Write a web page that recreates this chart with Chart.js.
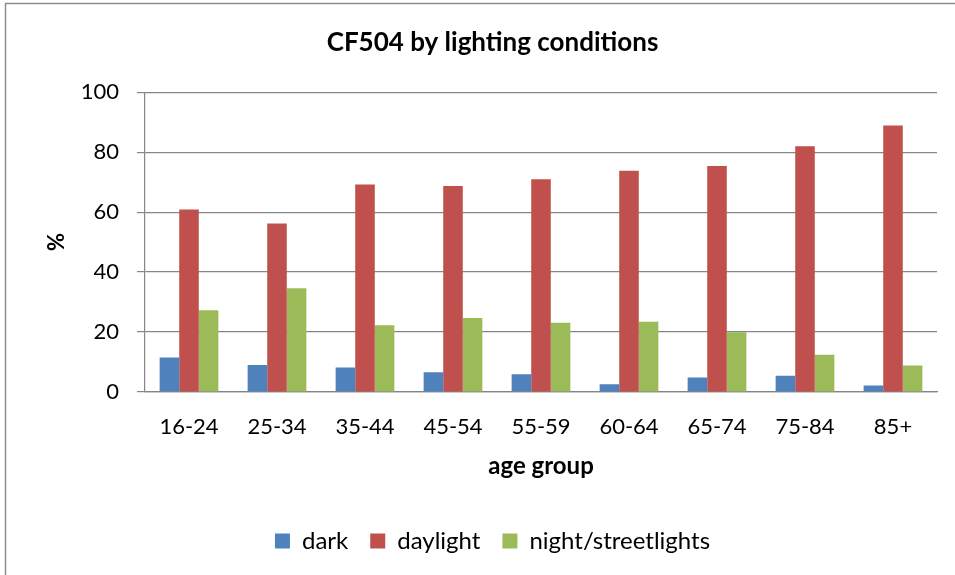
<!DOCTYPE html>
<html>
<head>
<meta charset="utf-8">
<script src="https://cdn.jsdelivr.net/npm/chart.js@4/dist/chart.umd.min.js"></script>
<style>
  html, body { margin: 0; padding: 0; background: #ffffff; }
  #wrap { width: 955px; height: 575px; position: relative; }
</style>
</head>
<body>
<div id="wrap"><canvas id="c" width="955" height="575"></canvas></div>
<script>
// Share of CF504 casualties by lighting conditions, per age group (%)
const ageGroups = ['16-24', '25-34', '35-44', '45-54', '55-59', '60-64', '65-74', '75-84', '85+'];
const dark = [11.5, 9.0, 8.2, 6.6, 5.9, 2.6, 4.8, 5.4, 2.2];
const daylight = [60.9, 56.2, 69.2, 68.7, 71.0, 73.8, 75.4, 82.0, 88.9];
const nightStreetlights = [27.3, 34.6, 22.3, 24.7, 23.1, 23.4, 19.9, 12.4, 8.8];
const yTicks = [0, 20, 40, 60, 80, 100];

const FONT = 'Lato, "Open Sans", sans-serif';
const GRID = '#868686';

// Thin frame around the whole chart
const framePlugin = {
  id: 'frame',
  beforeDraw(chart) {
    const ctx = chart.ctx;
    ctx.save();
    ctx.fillStyle = '#ffffff';
    ctx.fillRect(0, 0, chart.width, chart.height);
    ctx.strokeStyle = '#8c8c8c';
    ctx.lineWidth = 1.5;
    ctx.strokeRect(5.5, 3.5, chart.width + 20, chart.height + 20);
    ctx.restore();
  }
};

new Chart(document.getElementById('c'), {
  type: 'bar',
  data: {
    labels: ageGroups,
    datasets: [
      { label: 'dark', data: dark, backgroundColor: '#4F81BD' },
      { label: 'daylight', data: daylight, backgroundColor: '#C0504D' },
      { label: 'night/streetlights', data: nightStreetlights, backgroundColor: '#9BBB59' }
    ]
  },
  options: {
    responsive: false,
    animation: false,
    events: [],
    layout: { padding: { left: 48, right: 18, top: 0, bottom: 12 } },
    datasets: { bar: { categoryPercentage: 0.667, barPercentage: 1.0 } },
    plugins: {
      title: {
        display: true,
        text: 'CF504 by lighting conditions',
        color: '#000000',
        font: { family: FONT, size: 26, weight: 'bold', lineHeight: 1.2 },
        padding: { top: 27, bottom: 34 }
      },
      legend: {
        position: 'bottom',
        labels: {
          color: '#000000',
          font: { family: FONT, size: 24 },
          boxWidth: 15,
          boxHeight: 15,
          padding: 22
        }
      },
      tooltip: { enabled: false }
    },
    scales: {
      x: {
        grid: { display: false, drawTicks: false },
        border: { display: true, color: GRID, width: 1.2 },
        ticks: { color: '#000000', font: { family: FONT, size: 22 }, padding: 22, maxRotation: 0 },
        title: {
          display: true,
          text: 'age group',
          color: '#000000',
          font: { family: FONT, size: 24, weight: 'bold', lineHeight: 1.2 },
          padding: { top: 0, bottom: 26 }
        },
        afterFit(scale) { scale.height = 115; }
      },
      y: {
        min: 0,
        max: 100,
        afterBuildTicks(scale) { scale.ticks = yTicks.map(v => ({ value: v })); },
        grid: { color: GRID, lineWidth: 1.2, tickLength: 8, drawTicks: true, tickColor: GRID },
        border: { display: true, color: GRID, width: 1.2 },
        ticks: { color: '#000000', font: { family: FONT, size: 22 }, padding: 18 },
        title: {
          display: true,
          text: '%',
          color: '#000000',
          font: { family: FONT, size: 22, weight: 'bold', lineHeight: 1.2 },
          padding: { top: -4, bottom: 0 }
        },
        afterFit(scale) { scale.width = 97; }
      }
    }
  },
  plugins: [framePlugin]
});
</script>
</body>
</html>
